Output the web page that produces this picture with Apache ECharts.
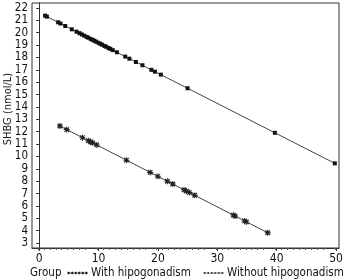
<!DOCTYPE html>
<html>
<head>
<meta charset="utf-8">
<script src="https://cdn.jsdelivr.net/npm/echarts@6/dist/echarts.min.js"></script>
<style>html,body{margin:0;padding:0;background:#fff}#c{width:346px;height:279px}</style>
</head>
<body>
<div id="c"></div>
<script>
// Data
const seriesNames = ['With hipogonadism', 'Without hipogonadism'];
const withX = [3.5, 4.65, 7.3, 8.3, 8.7, 9.0, 9.7, 14.7, 18.7, 20.0, 21.6, 22.5, 24.4, 24.8, 25.3, 26.2, 32.7, 33.0, 34.6, 34.9, 38.5];
const withY = [12.46, 12.17, 11.52, 11.27, 11.17, 11.10, 10.93, 9.70, 8.71, 8.39, 7.99, 7.77, 7.30, 7.20, 7.08, 6.86, 5.26, 5.18, 4.79, 4.71, 3.83];
const withoutX = [1.0, 1.3, 3.2, 3.6, 4.4, 5.5, 6.3, 6.8, 7.2, 7.6, 8.0, 8.3, 8.7, 9.0, 9.3, 9.6, 10.0, 10.3, 10.6, 11.0, 11.3, 11.7, 12.0, 12.4, 13.1, 14.5, 15.2, 16.3, 17.4, 18.9, 19.5, 20.5, 25.0, 39.7, 49.8];
const withoutY = [21.38, 21.30, 20.84, 20.74, 20.54, 20.27, 20.08, 19.96, 19.86, 19.76, 19.66, 19.59, 19.49, 19.42, 19.35, 19.27, 19.18, 19.10, 19.03, 18.93, 18.86, 18.76, 18.69, 18.59, 18.42, 18.07, 17.90, 17.63, 17.37, 17.00, 16.85, 16.61, 15.51, 11.91, 9.44];
const xTicks = [0, 10, 20, 30, 40, 50];
const yTicks = [3, 4, 5, 6, 7, 8, 9, 10, 11, 12, 13, 14, 15, 16, 17, 18, 19, 20, 21, 22];
const yAxisTitle = 'SHBG (nmol/L)';
const legendTitle = 'Group';

const FONT = '"Liberation Sans Narrow", "DejaVu Sans Condensed", "Liberation Sans", sans-serif';
const pair = (xs, ys) => xs.map((x, i) => [x, ys[i]]);

function asterisk(cx, cy, r) {
  const w = r * 0.16;
  let p = '';
  p += `M${cx - w},${cy - r}L${cx + w},${cy - r}L${cx + w},${cy + r}L${cx - w},${cy + r}Z`;
  p += `M${cx - r},${cy - w}L${cx + r},${cy - w}L${cx + r},${cy + w}L${cx - r},${cy + w}Z`;
  const d = r * 0.75, e = w * 0.9;
  p += `M${cx - d - e},${cy - d + e}L${cx - d + e},${cy - d - e}L${cx + d + e},${cy + d - e}L${cx + d - e},${cy + d + e}Z`;
  p += `M${cx + d - e},${cy - d - e}L${cx + d + e},${cy - d + e}L${cx - d + e},${cy + d + e}L${cx - d - e},${cy + d - e}Z`;
  return p;
}
function square(cx, cy, r) {
  return `M${cx - r},${cy - r}L${cx + r},${cy - r}L${cx + r},${cy + r}L${cx - r},${cy + r}Z`;
}
const starSymbol = 'path://' + asterisk(5, 5, 5);
function legendIcon(kind) {
  let p = 'M0,4.6L60,4.6L60,5.4L0,5.4Z';
  for (let i = 0; i < 6; i++) {
    const cx = 5 + i * 10;
    p += kind === 'star' ? asterisk(cx, 5, 4) : square(cx, 5, 2.2);
  }
  return 'path://' + p;
}
const legendText = {fontSize: 11.5, fontFamily: FONT, color: '#111', padding: [0, 0, 0, -2]};

const chart = echarts.init(document.getElementById('c'), null, {renderer: 'canvas'});
chart.setOption({
  animation: false,
  textStyle: {fontFamily: FONT},
  grid: {left: 32, right: 7, top: 3, bottom: 31, containLabel: false},
  xAxis: {
    type: 'value', min: -1.2, max: 50.5, interval: 10,
    axisLine: {show: true, lineStyle: {color: '#333', width: 1}},
    axisTick: {show: true, length: 3, lineStyle: {color: '#333'},
      customValues: xTicks},
    minorTick: {show: true, splitNumber: 10, length: 2, lineStyle: {color: '#555'}},
    axisLabel: {fontSize: 12, color: '#111', margin: 5, fontFamily: FONT,
      customValues: xTicks},
    splitLine: {show: false}
  },
  yAxis: {
    type: 'value', min: 2.6, max: 22.4, interval: 1,
    axisLine: {show: true, lineStyle: {color: '#333', width: 1}},
    axisTick: {show: true, length: 3, lineStyle: {color: '#333'},
      customValues: yTicks},
    axisLabel: {fontSize: 11.5, color: '#111', margin: 4, fontFamily: FONT,
      customValues: yTicks},
    splitLine: {show: false}
  },
  graphic: [
    {type: 'rect', shape: {x: 32, y: 3, width: 307, height: 245}, style: {fill: 'none', stroke: '#333', lineWidth: 1}, silent: true},
    {type: 'text', x: 8, y: 109, rotation: Math.PI / 2,
      style: {text: yAxisTitle, fontSize: 11, fontFamily: FONT, fill: '#111', align: 'center', verticalAlign: 'middle', textAlign: 'center', textVerticalAlign: 'middle'}},
    {type: 'text', x: 30, y: 273,
      style: {text: legendTitle, fontSize: 11.5, fontFamily: FONT, fill: '#111', align: 'left', verticalAlign: 'middle', textAlign: 'left', textVerticalAlign: 'middle'}}
  ],
  legend: [
    {
      left: 67, top: 267, itemWidth: 21, itemHeight: 4, padding: 0,
      textStyle: legendText,
      data: [{name: seriesNames[0], icon: legendIcon('star'), itemStyle: {color: '#111'}}]
    },
    {
      left: 203, top: 267, itemWidth: 21, itemHeight: 4, padding: 0,
      textStyle: legendText,
      data: [{name: seriesNames[1], icon: legendIcon('square'), itemStyle: {color: '#111'}}]
    }
  ],
  series: [
    {
      name: seriesNames[0], type: 'line', data: pair(withX, withY),
      symbol: starSymbol, symbolSize: 6, showAllSymbol: true,
      lineStyle: {color: '#444', width: 1},
      itemStyle: {color: '#222'}
    },
    {
      name: seriesNames[1], type: 'line', data: pair(withoutX, withoutY),
      symbol: 'rect', symbolSize: 4, showAllSymbol: true,
      lineStyle: {color: '#444', width: 1},
      itemStyle: {color: '#111'}
    }
  ]
});
</script>
</body>
</html>
